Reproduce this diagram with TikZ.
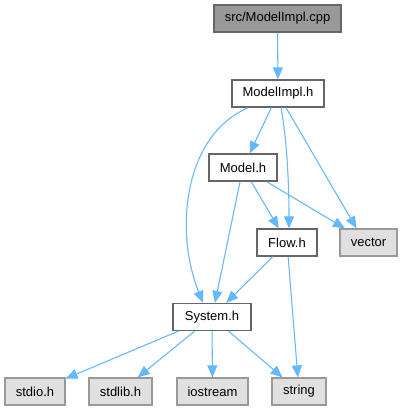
\documentclass[tikz,border=0pt]{standalone}
\usepackage{fontspec}
\setmainfont{Liberation Sans}
\usetikzlibrary{arrows.meta,calc}
\definecolor{edgec}{HTML}{63B8FF}
\definecolor{cppfill}{HTML}{999999}
\definecolor{darkb}{HTML}{666666}
\definecolor{extfill}{HTML}{E0E0E0}
\definecolor{extb}{HTML}{999999}
\begin{document}
\begin{tikzpicture}[x=0.75pt,y=-0.75pt,
  base/.style={rectangle,inner sep=0pt,minimum height=20.25pt,line width=0.9pt,
    font=\fontsize{9.75}{12}\selectfont,text=black},
  srcbox/.style={base,fill=cppfill,draw=darkb},
  hbox/.style={base,fill=white,draw=darkb},
  extbox/.style={base,fill=extfill,draw=extb},
  edge/.style={draw=edgec,line width=0.8pt,-{Triangle[length=9pt,width=7.5pt]}}]
\path[use as bounding box,fill=white] (0,0) rectangle (402,411);
\node[srcbox,minimum width=95.25pt] (cpp) at (277.5,18.5) {src/ModelImpl.cpp};
\node[hbox,minimum width=69pt] (mi) at (278,93.5) {ModelImpl.h};
\node[hbox,minimum width=51pt] (model) at (243,167.5) {Model.h};
\node[hbox,minimum width=45pt] (flow) at (287,242.5) {Flow.h};
\node[extbox,minimum width=42.75pt] (vector) at (368.5,242.5) {vector};
\node[hbox,minimum width=58.5pt] (sys) at (212,317) {System.h};
\node[extbox,minimum width=45pt] (stdio) at (35,391.5) {stdio.h};
\node[extbox,minimum width=47.25pt] (stdlib) at (120.5,391.5) {stdlib.h};
\node[extbox,minimum width=53.25pt] (iostream) at (212.5,391.5) {iostream};
\node[extbox,minimum width=40.5pt] (string) at (299,391.5) {string};

\draw[edge] (cpp) -- (mi);
\draw[edge] (mi) -- (model);
\draw[edge] ($(mi.south west)+(17,0)$) .. controls (184,135) and (174,230) .. ($(sys.north)+(-9,0)$);
\draw[edge] ($(mi.south)+(3,0)$) .. controls (287,140) and (289,185) .. ($(flow.north)+(2,0)$);
\draw[edge] ($(mi.south)+(8,0)$) -- ($(vector.north)+(-12,0)$);
\draw[edge] (model) -- (flow);
\draw[edge] (model) -- (vector);
\draw[edge] (model) -- (sys);
\draw[edge] (flow) -- (sys);
\draw[edge] (flow) -- (string);
\draw[edge] (sys) -- (stdio);
\draw[edge] (sys) -- (stdlib);
\draw[edge] (sys) -- (iostream);
\draw[edge] (sys) -- (string);
\end{tikzpicture}
\end{document}
